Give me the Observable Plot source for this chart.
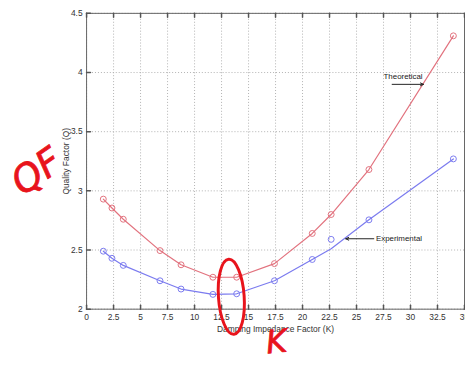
<!DOCTYPE html>
<html>
<head>
<meta charset="utf-8">
<script src="https://cdn.jsdelivr.net/npm/d3@7"></script>
<script src="https://cdn.jsdelivr.net/npm/@observablehq/plot@0.6"></script>
<style>
  html, body { margin: 0; padding: 0; background: #fff; overflow: hidden; width: 465px; height: 365px; }
  #chart svg { display: block; }
</style>
</head>
<body>
<div id="chart"></div>
<script>
// Damping impedance factor K (x)
const kValues = [1.55, 2.35, 3.4, 6.8, 8.75, 11.7, 13.9, 17.4, 20.9, 22.65, 26.15, 33.97];
// Quality factor Q
const theoretical = [2.93, 2.855, 2.76, 2.495, 2.375, 2.27, 2.27, 2.385, 2.64, 2.80, 3.18, 4.31];
const experimental = [2.49, 2.43, 2.37, 2.24, 2.17, 2.125, 2.13, 2.24, 2.42, 2.59, 2.755, 3.27];
const experimentalFit = [2.49, 2.43, 2.37, 2.24, 2.17, 2.125, 2.13, 2.24, 2.42, 2.51, 2.755, 3.27];
const xTicks = [0, 2.5, 5, 7.5, 10, 12.5, 15, 17.5, 20, 22.5, 25, 27.5, 30, 32.5, 35];
const yTicks = [2, 2.5, 3, 3.5, 4, 4.5];
const xLabel = "Damping Impedance Factor (K)";
const yLabel = "Quality Factor (Q)";
const labels = [
  {text: "Theoretical", x: 27.5, y: 3.965},
  {text: "Experimental", x: 26.8, y: 2.595}
];
const arrows = [
  {x1: 28.3, y1: 3.90, x2: 31.2, y2: 3.90},
  {x1: 26.6, y1: 2.595, x2: 24.0, y2: 2.595}
];
const scribbles = [
  {text: "QF", x: -4.6, y: 3.16, rotate: -35, size: 38},
  {text: "K", x: 17.6, y: 1.72, rotate: -6, size: 32}
];
const circleNote = {x: 13.45, y: 2.1};

const redColor = "#e2727e";
const blueColor = "#7b7bef";

const rows = kValues.map((k, i) => ({k, t: theoretical[i], e: experimental[i], f: experimentalFit[i]}));

const tickShape = {draw(ctx, l) { ctx.moveTo(0, 0); ctx.lineTo(0, -l); }};

const ellipseMark = (index, scales) => {
  const cx = scales.x(circleNote.x), cy = scales.y(circleNote.y);
  const g = d3.create("svg:g");
  g.append("ellipse")
    .attr("cx", cx).attr("cy", cy).attr("rx", 13).attr("ry", 38)
    .attr("transform", `rotate(-4 ${cx} ${cy})`)
    .attr("fill", "none").attr("stroke", "#e8141c").attr("stroke-width", 3);
  return g.node();
};

const plot = Plot.plot({
  width: 470,
  height: 365,
  marginLeft: 87,
  marginRight: 1,
  marginTop: 13,
  marginBottom: 53,
  style: {fontFamily: "Liberation Sans, Arial, sans-serif", fontSize: "8.5px", color: "#333", background: "#fff", overflow: "visible"},
  x: {domain: [0, 35], ticks: xTicks},
  y: {domain: [2, 4.5], ticks: yTicks},
  marks: [
    Plot.gridX(xTicks, {stroke: "#aaa", strokeOpacity: 0.9, strokeDasharray: "1,2"}),
    Plot.gridY(yTicks, {stroke: "#aaa", strokeOpacity: 0.9, strokeDasharray: "1,2"}),
    Plot.frame({stroke: "#666", strokeWidth: 1}),
    Plot.axisX(xTicks, {tickSize: 0, tickPadding: 5, tickFormat: d => String(d), label: null, fill: "#333"}),
    Plot.axisY(yTicks, {tickSize: 0, tickPadding: 4, tickFormat: d => String(d), label: null, fill: "#333"}),
    Plot.vector(xTicks, {x: d => d, y: 2, length: 4, rotate: 0, anchor: "start", shape: tickShape, stroke: "#555"}),
    Plot.vector(xTicks, {x: d => d, y: 4.5, length: 4, rotate: 180, anchor: "start", shape: tickShape, stroke: "#555"}),
    Plot.vector(yTicks, {x: 0, y: d => d, length: 4, rotate: 90, anchor: "start", shape: tickShape, stroke: "#555"}),
    Plot.text([xLabel], {x: 17.5, y: 2, dy: 20, text: d => d, fill: "#333", fontSize: 8.5}),
    Plot.text([yLabel], {x: 0, y: 3.25, dx: -20, rotate: -90, text: d => d, fill: "#333", fontSize: 8.5}),
    Plot.line(rows, {x: "k", y: "t", stroke: redColor, strokeWidth: 1.2}),
    Plot.line(rows, {x: "k", y: "f", stroke: blueColor, strokeWidth: 1.2}),
    Plot.dot(rows, {x: "k", y: "t", r: 3, stroke: redColor, strokeWidth: 1, fill: "none"}),
    Plot.dot(rows, {x: "k", y: "e", r: 3, stroke: blueColor, strokeWidth: 1, fill: "none"}),
    Plot.text(labels, {x: "x", y: "y", text: "text", textAnchor: "start", fill: "#222", fontSize: 8}),
    Plot.arrow(arrows, {x1: "x1", y1: "y1", x2: "x2", y2: "y2", stroke: "#222", strokeWidth: 1, headLength: 5, headAngle: 50}),
    Plot.text(scribbles, {x: "x", y: "y", text: "text", rotate: "rotate", fontSize: "size", fill: "#e8141c", stroke: "#e8141c", strokeWidth: 0.8, fontFamily: "DejaVu Sans", fontWeight: "normal", fontStyle: "italic"}),
    ellipseMark
  ]
});
document.getElementById("chart").appendChild(plot);
</script>
</body>
</html>
